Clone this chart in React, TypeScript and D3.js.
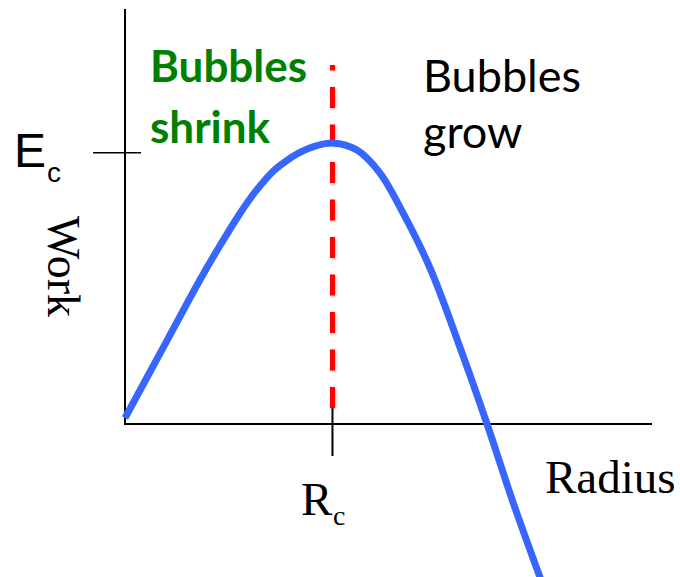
import React from "react";
import * as d3 from "d3";

// Work of bubble formation versus radius (Rc = 1, Ec = 1 units)
const radius = [0, 0.178, 0.361, 0.458, 0.554, 0.631, 0.713, 0.776, 0.843, 0.92, 1.0, 1.118, 1.229, 1.34, 1.47, 1.614, 1.745, 1.87, 2.005];
const work = [0.022, 0.273, 0.531, 0.658, 0.776, 0.859, 0.931, 0.969, 1.001, 1.025, 1.036, 1.01, 0.925, 0.778, 0.575, 0.284, 0.0, -0.288, -0.575];

const criticalRadius = 1;
const criticalEnergy = 1;
const dividerSpan = [0.059, 1.323];

const W = 680;
const H = 577;

const x = d3.scaleLinear().domain([0, 2.54]).range([125, 652]);
const y = d3.scaleLinear().domain([0, 1]).range([424, 152.7]);
const yTop = 1.53;

const points: [number, number][] = radius.map((r, i) => [r, work[i]]);
const curve = d3
  .line<[number, number]>()
  .x((d) => x(d[0]))
  .y((d) => y(d[1]))
  .curve(d3.curveCatmullRom.alpha(0.5));

export default function App() {
  const rcX = x(criticalRadius);
  const ecY = y(criticalEnergy);
  return (
    <svg
      width={W}
      height={H}
      viewBox={`0 0 ${W} ${H}`}
      style={{ position: "absolute", left: 0, top: 0, background: "#fff" }}
    >
      <defs>
        <filter id="dashShadow" filterUnits="userSpaceOnUse" x={0} y={0} width={W} height={H}>
          <feDropShadow dx="1" dy="1" stdDeviation="1.4" floodColor="#000" floodOpacity="0.28" />
        </filter>
      </defs>

      {/* axes */}
      <line x1={x(0)} x2={x(0)} y1={y(0) + 1} y2={y(yTop)} stroke="#000" strokeWidth={2} />
      <line x1={x(0) - 1} x2={x(2.54)} y1={y(0)} y2={y(0)} stroke="#000" strokeWidth={2} />

      {/* Ec tick */}
      <line x1={93} x2={141} y1={ecY} y2={ecY} stroke="#000" strokeWidth={1.6} />
      {/* Rc tick */}
      <line x1={rcX} x2={rcX} y1={y(dividerSpan[0])} y2={456} stroke="#000" strokeWidth={2} />

      {/* critical radius divider */}
      <line
        x1={rcX}
        x2={rcX}
        y1={y(dividerSpan[0])}
        y2={y(dividerSpan[1])}
        stroke="#ff0000"
        strokeWidth={5}
        strokeDasharray="21 16.5"
        filter="url(#dashShadow)"
      />

      {/* work curve */}
      <path d={curve(points) ?? ""} fill="none" stroke="#3766ff" strokeWidth={7} />

      {/* axis labels */}
      <g fontFamily="'Liberation Sans', Arial, sans-serif" fill="#000">
        <text x={14} y={167} fontSize={48}>E</text>
        <text x={47} y={182} fontSize={28}>c</text>
      </g>
      <g fontFamily="'Liberation Serif', 'Times New Roman', serif" fill="#000">
        <text transform="translate(48,216) rotate(90)" fontSize={46}>Work</text>
        <text x={301} y={515} fontSize={47}>R</text>
        <text x={333} y={525} fontSize={28}>c</text>
        <text x={545} y={493} fontSize={47}>Radius</text>
      </g>

      {/* region annotations */}
      <g fontFamily="Lato, 'Open Sans', sans-serif" fontWeight={700} fill="#008000" fontSize={44}>
        <text x={150} y={82}>Bubbles</text>
        <text x={150} y={143}>shrink</text>
      </g>
      <g fontFamily="Lato, 'Open Sans', sans-serif" fill="#000" fontSize={45}>
        <text x={423} y={92}>Bubbles</text>
        <text x={423} y={148}>grow</text>
      </g>
    </svg>
  );
}
